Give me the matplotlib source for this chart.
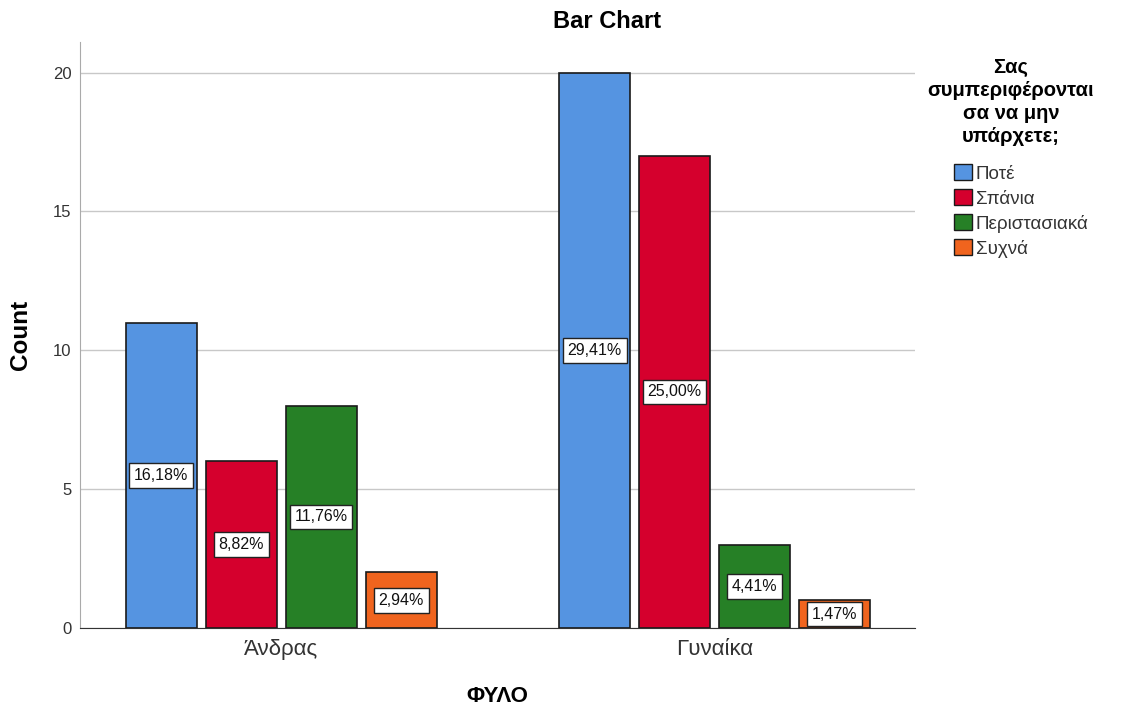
import numpy as np
import matplotlib.pyplot as plt
from matplotlib.patches import Patch

plt.rcParams['font.family'] = ['Liberation Sans', 'DejaVu Sans']

# data
groups = ['Άνδρας', 'Γυναίκα']
categories = ['Ποτέ', 'Σπάνια', 'Περιστασιακά', 'Συχνά']
counts = {
    'Ποτέ': [11, 20],
    'Σπάνια': [6, 17],
    'Περιστασιακά': [8, 3],
    'Συχνά': [2, 1],
}
pct_labels = {
    'Ποτέ': ['16,18%', '29,41%'],
    'Σπάνια': ['8,82%', '25,00%'],
    'Περιστασιακά': ['11,76%', '4,41%'],
    'Συχνά': ['2,94%', '1,47%'],
}
colors = ['#5594E1', '#D5002D', '#268026', '#F0641E']

fig = plt.figure(figsize=(11.31, 7.11), dpi=100)
ax = fig.add_axes([80 / 1131, 1 - 628 / 711, 835 / 1131, 586 / 711])

x = np.arange(len(groups))
width = 0.164
step = 0.1845
for i, cat in enumerate(categories):
    pos = x + (i - 1.5) * step
    ax.bar(pos, counts[cat], width, color=colors[i], edgecolor='#1a1a1a',
           linewidth=1.2, zorder=3, label=cat)
    for px, v, lab in zip(pos, counts[cat], pct_labels[cat]):
        ax.text(px, v / 2, lab, ha='center', va='center', fontsize=11.5,
                color='#111111', zorder=4,
                bbox=dict(boxstyle='square,pad=0.3', fc='white', ec='#222222', lw=1))

ax.set_xlim(-0.464, 1.4625)
ax.set_ylim(0, 21.1)
ax.set_yticks([0, 5, 10, 15, 20])
ax.yaxis.grid(True, color='#c8c8c8', linewidth=1, zorder=0)
ax.set_axisbelow(True)
ax.set_xticks(x)
ax.set_xticklabels(groups, fontsize=16, color='#333333')
ax.tick_params(axis='y', labelsize=12, colors='#333333', length=0, pad=6)
ax.tick_params(axis='x', length=0, pad=8)
for s in ['top', 'right']:
    ax.spines[s].set_visible(False)
ax.spines['left'].set_color('#aaaaaa')
ax.spines['bottom'].set_color('#333333')

ax.set_ylabel('Count', fontsize=17.5, fontweight='bold', va='center')
ax.yaxis.set_label_coords(-59 / 835, 0.5)
ax.set_xlabel('ΦΥΛΟ', fontsize=16, fontweight='bold', va='center')
ax.xaxis.set_label_coords(0.5, -(696 - 628) / 586)
fig.text(607 / 1131, 1 - 22 / 711, 'Bar Chart', ha='center', va='center',
         fontsize=17, fontweight='bold')

fig.text(1011 / 1131, 1 - 102 / 711, 'Σας\nσυμπεριφέρονται\nσα να μην\nυπάρχετε;',
         ha='center', va='center', fontsize=14.5, fontweight='bold',
         linespacing=1.28)
handles = [Patch(facecolor=c, edgecolor='#1a1a1a', label=l) for c, l in zip(colors, categories)]
fig.legend(handles=handles, loc='upper left', bbox_to_anchor=(945 / 1131, 1 - 155 / 711),
           frameon=False, fontsize=13.5, handlelength=0.95, handleheight=0.9,
           handletextpad=0.2, labelspacing=0.36, borderpad=0, labelcolor='#333333')

fig.savefig('out.png', dpi=100)
